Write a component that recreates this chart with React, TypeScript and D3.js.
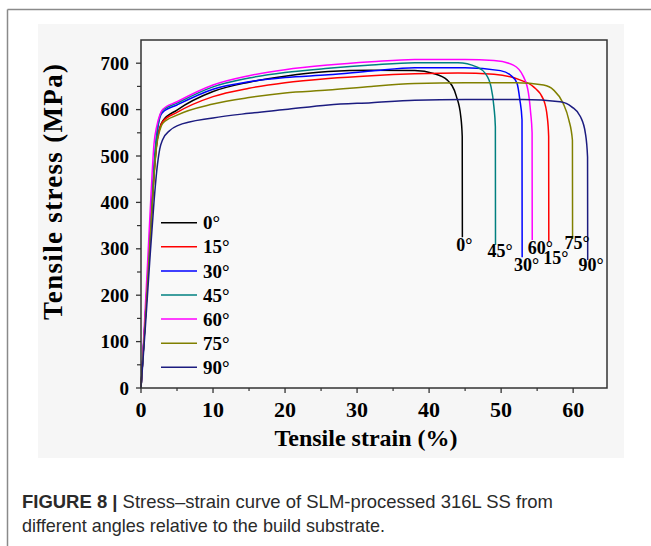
import React from "react";
import * as d3 from "d3";

// Stress–strain curves, [strain %, stress MPa]
const curve0: [number, number][] = [
  [0, 0], [0.5, 125], [1.0, 255], [1.5, 385], [1.9, 480], [2.2, 530], [2.6, 560], [3, 575],
  [5, 599], [10, 639], [15, 659], [20, 672], [26, 682], [32, 685], [38, 684], [40.6, 678],
  [42.5, 664], [43.8, 628], [44.4, 585], [44.6, 542], [44.62, 325],
];
const curve15: [number, number][] = [
  [0, 0], [0.5, 125], [1.0, 255], [1.5, 385], [1.9, 480], [2.2, 530], [2.6, 560], [3, 574],
  [5, 594], [10, 628], [15, 646], [20, 658], [26, 667], [32, 673], [38, 677], [44, 679],
  [49, 676], [52.6, 664], [54.5, 649], [55.9, 621], [56.4, 585], [56.6, 542], [56.62, 315],
];
const curve30: [number, number][] = [
  [0, 0], [0.5, 128], [1.0, 262], [1.5, 395], [1.9, 495], [2.2, 545], [2.6, 582], [3, 594],
  [5, 610], [10, 644], [15, 660], [20, 669], [26, 675], [32, 683], [38, 690], [45, 690],
  [49.9, 684], [51.25, 675], [52.2, 657], [52.6, 621], [52.9, 578], [52.92, 282],
];
const curve45: [number, number][] = [
  [0, 0], [0.5, 128], [1.0, 262], [1.5, 395], [1.9, 498], [2.2, 550], [2.6, 585], [3, 598],
  [5, 614], [10, 649], [15, 668], [20, 680], [26, 689], [32, 696], [38, 701], [44, 701],
  [46.6, 692], [47.8, 678], [48.6, 649], [49.0, 606], [49.2, 563], [49.22, 308],
];
const curve60: [number, number][] = [
  [0, 0], [0.4, 115], [0.9, 265], [1.4, 420], [1.8, 525], [2.2, 565], [2.6, 588], [3, 600],
  [5, 617], [10, 653], [15, 673], [20, 686], [26, 696], [32, 703], [38, 708], [45, 708],
  [49, 706], [51.7, 696], [53.1, 671], [53.8, 635], [54.1, 593], [54.3, 550], [54.32, 319],
];
const curve75: [number, number][] = [
  [0, 0], [0.5, 122], [1.0, 250], [1.5, 380], [1.9, 475], [2.2, 525], [2.6, 555], [3, 570],
  [5, 588], [10, 612], [15, 626], [20, 636], [26, 642], [32, 650], [38, 656], [45, 658],
  [52, 658], [55.9, 653], [57.3, 642], [58.6, 614], [59.4, 578], [59.9, 534], [59.92, 321],
];
const curve90: [number, number][] = [
  [0, 0], [0.6, 130], [1.2, 270], [1.8, 400], [2.2, 470], [2.6, 515], [3, 535], [4, 555],
  [5, 565], [10, 582], [15, 592], [20, 600], [26, 610], [32, 615], [38, 620], [45, 622],
  [53, 622], [58.2, 617], [59.8, 606], [61, 585], [61.7, 549], [62.0, 498], [62.02, 276],
];

const angleLabels = ["0°", "15°", "30°", "45°", "60°", "75°", "90°"];
const curves = [curve0, curve15, curve30, curve45, curve60, curve75, curve90];
const colors = ["#000000", "#ff0000", "#0000ff", "#008080", "#ff00ff", "#808000", "#1c1c80"];
// pixel nudges of the fracture-end labels relative to each curve's last point
const endLabelNudge: [number, number][] = [
  [2, 7], [7, 16], [4.5, 8], [4.5, 6], [8, 8], [4.5, 4], [3.5, 5],
];

const xTicks = [0, 10, 20, 30, 40, 50, 60];
const yTicks = [0, 100, 200, 300, 400, 500, 600, 700];

const W = 651;
const H = 546;
const M = { left: 141, right: 607, top: 40, bottom: 388 };

export default function App() {
  const x = d3.scaleLinear().domain([0, 64.7]).range([M.left, M.right]);
  const y = d3.scaleLinear().domain([0, 750]).range([M.bottom, M.top]);
  const line = d3
    .line<[number, number]>()
    .x((d) => x(d[0]))
    .y((d) => y(d[1]))
    .curve(d3.curveMonotoneX);

  const xMinor = d3.range(5, 65, 10);
  const yMinor = d3.range(50, 750, 100);
  const serif = "'Liberation Serif', 'Times New Roman', serif";
  const sans = "'Liberation Sans', Arial, sans-serif";

  return (
    <svg
      width={W}
      height={H}
      style={{ position: "absolute", left: 0, top: 0, background: "#fff" }}
    >
      {/* page frame */}
      <line x1={7.5} x2={W} y1={9.5} y2={9.5} stroke="#8a8a8a" strokeWidth={1.5} />
      <line x1={7.5} x2={7.5} y1={9.5} y2={H} stroke="#8a8a8a" strokeWidth={1.5} />

      {/* figure panel */}
      <rect x={38} y={24} width={586} height={434} fill="#f6f6f6" />
      <rect x={M.left} y={M.top} width={M.right - M.left} height={M.bottom - M.top} fill="#f9f9f9" />

      {/* curves */}
      {curves.map((c, i) => (
        <path key={i} d={line(c) ?? ""} fill="none" stroke={colors[i]} strokeWidth={1.5} />
      ))}

      {/* axes frame */}
      <rect
        x={M.left}
        y={M.top}
        width={M.right - M.left}
        height={M.bottom - M.top}
        fill="none"
        stroke="#333"
        strokeWidth={1.5}
      />

      {/* x ticks */}
      {xTicks.map((t) => (
        <g key={"xt" + t}>
          <line x1={x(t)} x2={x(t)} y1={M.bottom} y2={M.bottom + 5} stroke="#333" strokeWidth={1.3} />
          <text
            x={x(t)}
            y={M.bottom + 29}
            textAnchor="middle"
            fontFamily={serif}
            fontWeight="bold"
            fontSize={22}
          >
            {t}
          </text>
        </g>
      ))}
      {xMinor.map((t) => (
        <line key={"xm" + t} x1={x(t)} x2={x(t)} y1={M.bottom} y2={M.bottom + 3} stroke="#333" strokeWidth={1.2} />
      ))}

      {/* y ticks */}
      {yTicks.map((t) => (
        <g key={"yt" + t}>
          <line x1={M.left - 5} x2={M.left} y1={y(t)} y2={y(t)} stroke="#333" strokeWidth={1.3} />
          <text
            x={M.left - 12}
            y={y(t)}
            dy="0.35em"
            textAnchor="end"
            fontFamily={serif}
            fontWeight="bold"
            fontSize={19}
          >
            {t}
          </text>
        </g>
      ))}
      {yMinor.map((t) => (
        <line key={"ym" + t} x1={M.left - 4} x2={M.left} y1={y(t)} y2={y(t)} stroke="#333" strokeWidth={1.2} />
      ))}

      {/* axis titles */}
      <text
        x={366}
        y={446}
        textAnchor="middle"
        fontFamily={serif}
        fontWeight="bold"
        fontSize={24}
      >
        Tensile strain (%)
      </text>
      <text
        transform={`translate(62, 192) rotate(-90)`}
        textAnchor="middle"
        fontFamily={serif}
        fontWeight="bold"
        fontSize={27}
        textLength={256}
        lengthAdjust="spacing"
      >
        Tensile stress (MPa)
      </text>

      {/* legend */}
      {angleLabels.map((lab, i) => {
        const ly = 222.7 + i * 24.1;
        return (
          <g key={"lg" + i}>
            <line x1={161} x2={197} y1={ly} y2={ly} stroke={colors[i]} strokeWidth={1.5} />
            <text x={203} y={ly} dy="0.35em" fontFamily={serif} fontWeight="bold" fontSize={19}>
              {lab}
            </text>
          </g>
        );
      })}

      {/* fracture-end labels */}
      {curves.map((c, i) => {
        const last = c[c.length - 1];
        return (
          <text
            key={"el" + i}
            x={x(last[0]) + endLabelNudge[i][0]}
            y={y(last[1]) + endLabelNudge[i][1]}
            dy="0.35em"
            textAnchor="middle"
            fontFamily={serif}
            fontWeight="bold"
            fontSize={18}
          >
            {angleLabels[i]}
          </text>
        );
      })}

      {/* caption */}
      <text
        x={22}
        y={508}
        fontFamily={sans}
        fontSize={19}
        fill="#2a2a2a"
        textLength={531}
        lengthAdjust="spacingAndGlyphs"
      >
        <tspan fontWeight="bold">FIGURE 8 | </tspan>
        <tspan>Stress–strain curve of SLM-processed 316L SS from</tspan>
      </text>
      <text
        x={22}
        y={532}
        fontFamily={sans}
        fontSize={19}
        fill="#2a2a2a"
        textLength={363}
        lengthAdjust="spacingAndGlyphs"
      >
        different angles relative to the build substrate.
      </text>
    </svg>
  );
}
